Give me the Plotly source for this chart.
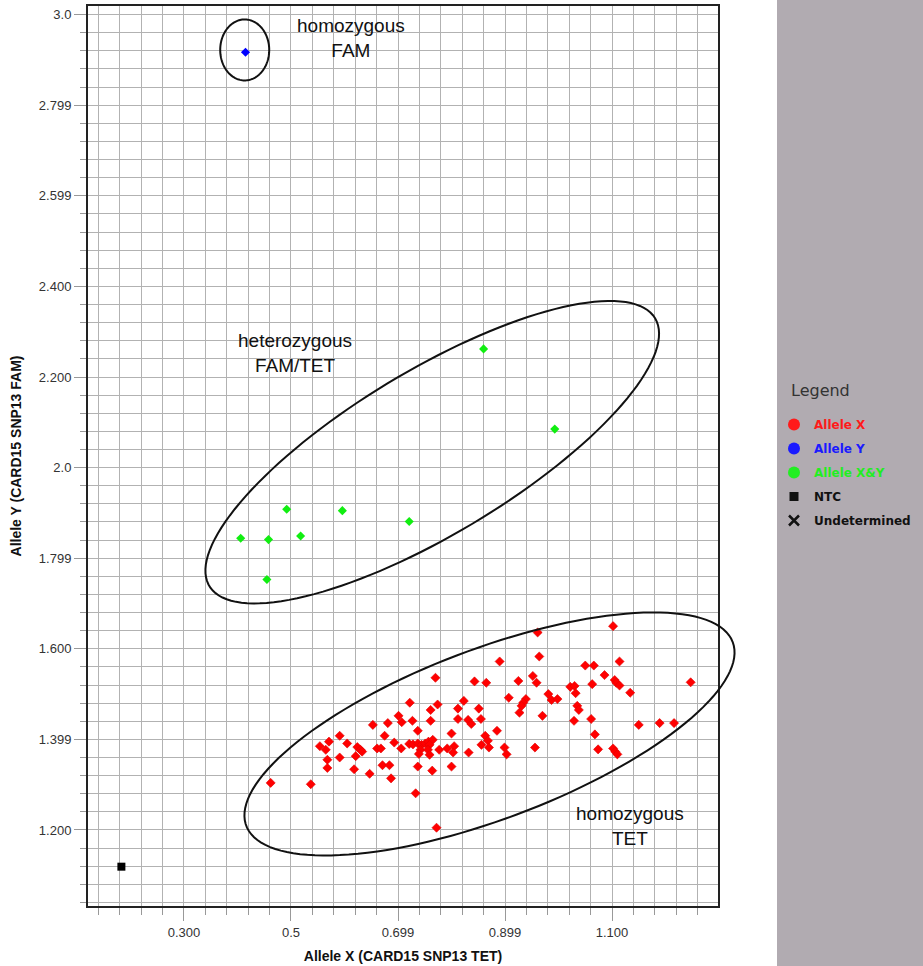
import numpy as np
import plotly.graph_objects as go

# ---------------- data ----------------
allele_x_x = [0.462, 0.537, 0.571, 0.554, 0.565, 0.591, 0.605, 0.568, 0.568, 0.591,
              0.621, 0.624, 0.630, 0.633, 0.618, 0.647, 0.653, 0.661, 0.668, 0.675,
              0.681, 0.671, 0.684, 0.687, 0.693, 0.701, 0.707, 0.706, 0.722, 0.727,
              0.721, 0.728, 0.737, 0.737, 0.744, 0.751, 0.757, 0.765, 0.759, 0.742,
              0.739, 0.756, 0.759, 0.737, 0.733, 0.764, 0.761, 0.761, 0.774, 0.770,
              0.777, 0.792, 0.800, 0.805, 0.803, 0.800, 0.772, 0.961, 0.964, 0.890,
              0.843, 0.865, 0.925, 0.952, 0.959, 1.050, 1.066, 1.063, 1.022, 1.030,
              1.032, 0.907, 0.981, 0.987, 0.998, 0.939, 0.934, 0.931, 0.927, 0.823,
              0.812, 0.851, 1.035, 1.038, 0.812, 0.831, 0.837, 0.855, 0.970, 1.029,
              1.061, 0.885, 1.068, 0.863, 0.868, 0.856, 0.870, 0.832, 0.899, 0.903,
              0.956, 1.074, 1.102, 1.114, 1.086, 1.105, 1.108, 1.114, 1.134, 1.247,
              1.150, 1.189, 1.216, 1.102, 1.106, 1.110]
allele_x_y = [1.304, 1.301, 1.395, 1.385, 1.377, 1.408, 1.391, 1.355, 1.337, 1.360,
              1.363, 1.383, 1.377, 1.373, 1.334, 1.324, 1.432, 1.380, 1.380, 1.408,
              1.436, 1.343, 1.343, 1.314, 1.393, 1.452, 1.438, 1.380, 1.481, 1.441,
              1.390, 1.389, 1.419, 1.391, 1.388, 1.391, 1.395, 1.399, 1.388, 1.377,
              1.368, 1.377, 1.366, 1.340, 1.281, 1.331, 1.465, 1.441, 1.477, 1.536,
              1.377, 1.380, 1.413, 1.385, 1.371, 1.340, 1.205, 1.636, 1.583, 1.572,
              1.528, 1.525, 1.529, 1.540, 1.525, 1.563, 1.563, 1.522, 1.516, 1.518,
              1.502, 1.492, 1.500, 1.487, 1.489, 1.489, 1.481, 1.474, 1.459, 1.485,
              1.468, 1.468, 1.474, 1.465, 1.445, 1.443, 1.434, 1.445, 1.452, 1.441,
              1.445, 1.419, 1.411, 1.408, 1.397, 1.388, 1.382, 1.371, 1.382, 1.367,
              1.382, 1.378, 1.650, 1.572, 1.542, 1.531, 1.525, 1.519, 1.503, 1.526,
              1.432, 1.436, 1.436, 1.380, 1.373, 1.367]

allele_y_x = [0.415]
allele_y_y = [2.917]

allele_xy_x = [0.860, 0.993, 0.406, 0.458, 0.492, 0.518, 0.596, 0.721, 0.455]
allele_xy_y = [2.262, 2.085, 1.844, 1.841, 1.908, 1.849, 1.905, 1.881, 1.753]

ntc_x = [0.183]
ntc_y = [1.119]

x_tick_vals = [0.3, 0.5, 0.7, 0.9, 1.1]
x_tick_text = ["0.300", "0.5", "0.699", "0.899", "1.100"]
y_tick_vals = [1.2, 1.4, 1.6, 1.8, 2.0, 2.2, 2.4, 2.6, 2.8, 3.0]
y_tick_text = ["1.200", "1.399", "1.600", "1.799", "2.0", "2.200", "2.400", "2.599", "2.799", "3.0"]

legend_names = ["Allele X", "Allele Y", "Allele X&Y", "NTC", "Undetermined"]
legend_colors = ["#ff1a1a", "#1a1aff", "#22ee22", "#111111", "#111111"]

# ---------------- layout geometry ----------------
W, H = 923, 966
ML, MR, MT, MB = 88, 205, 6, 60
X_RANGE = [0.1206, 1.2981]
Y_RANGE = [1.0322, 3.019]
pw = W - ML - MR
ph = H - MT - MB


def ellipse_path(cx, cy, a_px, b_px, angle_deg, n=140):
    """Ellipse outline centred on data point (cx, cy), drawn in paper coords so it is not clipped."""
    th = np.deg2rad(angle_deg)
    t = np.linspace(0, 2 * np.pi, n)
    dx = a_px * np.cos(th) * np.cos(t) - b_px * np.sin(th) * np.sin(t)
    dy = a_px * np.sin(th) * np.cos(t) + b_px * np.cos(th) * np.sin(t)
    px = (cx - X_RANGE[0]) / (X_RANGE[1] - X_RANGE[0]) + dx / pw
    py = (cy - Y_RANGE[0]) / (Y_RANGE[1] - Y_RANGE[0]) + dy / ph
    return "M " + " L ".join(f"{x:.5f},{y:.5f}" for x, y in zip(px, py)) + " Z"


fig = go.Figure()

# data traces
fig.add_trace(go.Scatter(x=allele_x_x, y=allele_x_y, mode="markers", showlegend=False,
                         marker=dict(symbol="diamond", size=7, color="#ff0000",
                                     line=dict(width=0.6, color="#e00000"))))
fig.add_trace(go.Scatter(x=allele_xy_x, y=allele_xy_y, mode="markers", showlegend=False,
                         marker=dict(symbol="diamond", size=7, color="#11ee11",
                                     line=dict(width=0))))
fig.add_trace(go.Scatter(x=allele_y_x, y=allele_y_y, mode="markers", showlegend=False,
                         marker=dict(symbol="diamond", size=7, color="#0000ff",
                                     line=dict(width=0))))
fig.add_trace(go.Scatter(x=ntc_x, y=ntc_y, mode="markers", showlegend=False,
                         marker=dict(symbol="square", size=8, color="#000000")))

# legend entries
legend_symbols = ["circle", "circle", "circle", "square", "x-thin"]
legend_sizes = [12, 12, 12, 9, 10]
for i, (nm, col, sym, sz) in enumerate(zip(legend_names, legend_colors, legend_symbols, legend_sizes)):
    if sym == "x-thin":
        mk = dict(symbol=sym, size=sz, color=col, line=dict(width=2.5, color=col))
    else:
        mk = dict(symbol=sym, size=sz, color=col, line=dict(width=0))
    fig.add_trace(go.Scatter(x=[None], y=[None], mode="markers", marker=mk,
                             name=f'<span style="color:{col}">{nm}</span>',
                             legendgroup=f"g{i}", showlegend=True))

# side panel + ellipses
shapes = [
    dict(type="rect", xref="paper", yref="paper",
         x0=(777 - ML) / pw, x1=(W - ML) / pw, y0=-MB / ph, y1=(ph + MT) / ph,
         fillcolor="#b1abb1", line=dict(width=0), layer="below"),
    dict(type="path", xref="paper", yref="paper", path=ellipse_path(0.4135, 2.922, 24.5, 30.5, 0),
         line=dict(color="#111111", width=2)),
    dict(type="path", xref="paper", yref="paper", path=ellipse_path(0.764, 2.034, 260, 82, 31),
         line=dict(color="#111111", width=2)),
    dict(type="path", xref="paper", yref="paper", path=ellipse_path(0.871, 1.412, 260, 85, 20.7),
         line=dict(color="#111111", width=2)),
]

ann_font = dict(family="Liberation Sans, Arial, sans-serif", size=19, color="#111111")
annotations = [
    dict(x=0.612, y=2.949, xref="x", yref="y", text="homozygous<br>FAM", showarrow=False, font=ann_font),
    dict(x=0.507, y=2.253, xref="x", yref="y", text="heterozygous<br>FAM/TET", showarrow=False, font=ann_font),
    dict(x=1.133, y=1.209, xref="x", yref="y", text="homozygous<br>TET", showarrow=False, font=ann_font),
    dict(x=(789 - ML) / pw, y=(ph + MT - 390) / ph, xref="paper", yref="paper", xanchor="left",
         yanchor="middle", text="Legend", showarrow=False,
         font=dict(family="DejaVu Sans, sans-serif", size=16, color="#333333")),
]

grid_col = "#b2b2b2"
tick_font = dict(family="Liberation Sans, Arial, sans-serif", size=13, color="#333333")
title_font = dict(family="Liberation Sans, Arial, sans-serif", size=14, color="#111111", weight="bold")

fig.update_layout(
    width=W, height=H,
    margin=dict(l=ML, r=MR, t=MT, b=MB),
    paper_bgcolor="white", plot_bgcolor="white",
    shapes=shapes, annotations=annotations,
    showlegend=True,
    legend=dict(x=(774 - ML) / pw, y=(ph + MT - 410) / ph, xanchor="left", yanchor="top",
                bgcolor="rgba(0,0,0,0)", traceorder="grouped", tracegroupgap=5,
                font=dict(family="DejaVu Sans, sans-serif", size=12, weight="bold")),
    xaxis=dict(range=X_RANGE, tickvals=x_tick_vals, ticktext=x_tick_text,
               showgrid=True, gridcolor=grid_col, gridwidth=1.3,
               ticks="outside", ticklen=13, tickcolor="#999999", tickwidth=1,
               showline=True, linecolor="#222222", linewidth=2, mirror=True,
               zeroline=False, automargin=False, tickfont=tick_font,
               minor=dict(tick0=0.3, dtick=0.04, showgrid=True, gridcolor=grid_col, gridwidth=1.3,
                          ticks="outside", ticklen=7, tickcolor="#999999"),
               title=dict(text="Allele X (CARD15 SNP13 TET)", font=title_font, standoff=13)),
    yaxis=dict(range=Y_RANGE, tickvals=y_tick_vals, ticktext=y_tick_text,
               showgrid=True, gridcolor=grid_col, gridwidth=1.3,
               ticks="outside", ticklen=12, tickcolor="#999999", tickwidth=1,
               showline=True, linecolor="#222222", linewidth=2, mirror=True,
               zeroline=False, automargin=False, tickfont=tick_font,
               minor=dict(tick0=1.2, dtick=0.04, showgrid=True, gridcolor=grid_col, gridwidth=1.3,
                          ticks="outside", ticklen=6, tickcolor="#999999"),
               title=dict(text="Allele Y (CARD15 SNP13 FAM)", font=title_font, standoff=14)),
)

fig.write_html("out.html", config={"displayModeBar": False},
               post_script="document.body.style.margin='0px';")
